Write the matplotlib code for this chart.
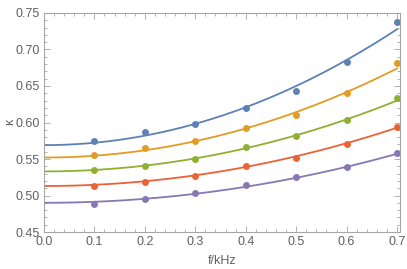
import numpy as np
import matplotlib.pyplot as plt
from matplotlib.ticker import MultipleLocator

plt.rcParams['font.family'] = ['Liberation Sans', 'DejaVu Sans']

# measured points
freq = [0.1, 0.2, 0.3, 0.4, 0.5, 0.6, 0.7]
kappa_blue = [0.574, 0.587, 0.598, 0.620, 0.643, 0.683, 0.737]
kappa_orange = [0.555, 0.565, 0.574, 0.592, 0.610, 0.640, 0.681]
kappa_green = [0.535, 0.541, 0.550, 0.566, 0.581, 0.604, 0.634]
kappa_red = [0.513, 0.519, 0.527, 0.541, 0.552, 0.571, 0.594]
kappa_purple = [0.488, 0.495, 0.503, 0.515, 0.525, 0.539, 0.558]

# fitted curves: kappa = k0 + b * f^2
fit_k0 = [0.569, 0.552, 0.533, 0.513, 0.490]
fit_b = [0.324, 0.249, 0.198, 0.163, 0.137]

colors = ['#5E81B5', '#E19C24', '#8FB032', '#EB6235', '#8778B3']
series = [kappa_blue, kappa_orange, kappa_green, kappa_red, kappa_purple]

fig = plt.figure(figsize=(4.07, 2.69), dpi=100)
ax = fig.add_axes([0.108, 0.1375, 0.875, 0.8142])

f_line = np.linspace(0, 0.7, 200)
for vals, k0, b, c in zip(series, fit_k0, fit_b, colors):
    ax.plot(f_line, k0 + b * f_line**2, color=c, lw=1.3)
    ax.plot(freq, vals, 'o', color=c, ms=5, mec='none')

ax.set_xlim(0, 0.706)
ax.set_ylim(0.45, 0.75)
ax.xaxis.set_major_locator(MultipleLocator(0.1))
ax.xaxis.set_minor_locator(MultipleLocator(0.02))
ax.yaxis.set_major_locator(MultipleLocator(0.05))
ax.yaxis.set_minor_locator(MultipleLocator(0.01))
ax.xaxis.set_major_formatter(plt.FuncFormatter(lambda v, p: f'{v:.1f}'))
ax.yaxis.set_major_formatter(plt.FuncFormatter(lambda v, p: f'{v:.2f}'))

frame_col = '#a6a6a6'
text_col = '#606060'
for s in ax.spines.values():
    s.set_color(frame_col)
    s.set_linewidth(0.8)
ax.tick_params(which='both', direction='in', top=True, right=True,
               color=frame_col, labelcolor=text_col, labelsize=9, width=0.6)
ax.tick_params(which='major', length=4, pad=3)
ax.tick_params(which='minor', length=2)

ax.set_xlabel('f/kHz', color=text_col, fontsize=9, labelpad=5)
fig.text(10 / 407, 1 - 122 / 269, 'κ', rotation=90, ha='center', va='center',
         color=text_col, fontsize=9)

fig.savefig('out.png', dpi=100)
